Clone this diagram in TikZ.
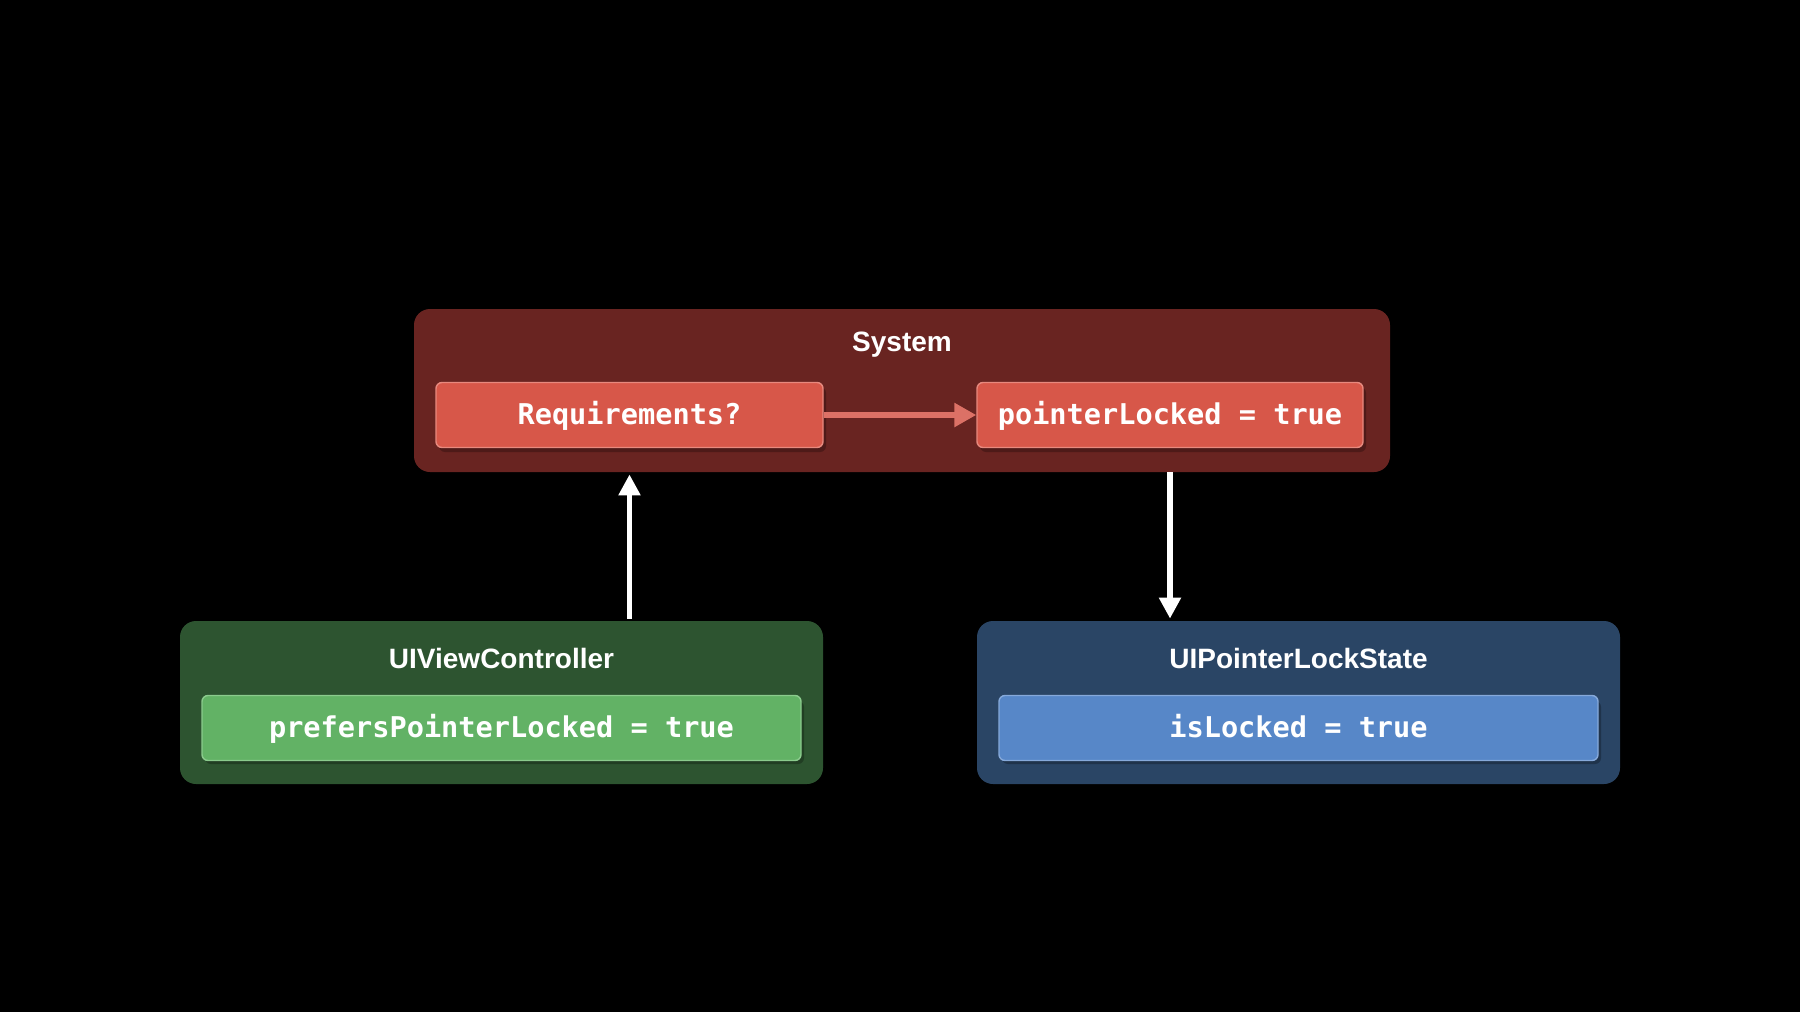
\documentclass[tikz,border=0pt]{standalone}
\usepackage{fontspec}
\setmainfont{Liberation Sans}
\newfontfamily\monof{DejaVu Sans Mono}
\usetikzlibrary{arrows.meta,calc}
\definecolor{sysbg}{HTML}{692421}
\definecolor{redbox}{HTML}{D75749}
\definecolor{redline}{HTML}{E7897E}
\definecolor{redarrow}{HTML}{DC7166}
\definecolor{greenbg}{HTML}{2D5430}
\definecolor{greenbox}{HTML}{62B265}
\definecolor{greenline}{HTML}{8BCB8D}
\definecolor{bluebg}{HTML}{2A4565}
\definecolor{bluebox}{HTML}{5787C8}
\definecolor{blueline}{HTML}{86A9DA}
\begin{document}
\begin{tikzpicture}[x=0.5pt,y=-0.5pt,
  group/.style={rectangle,rounded corners=8pt,minimum width=488pt,minimum height=81.5pt,inner sep=0pt},
  item/.style={rectangle,rounded corners=3pt,inner sep=0pt,minimum height=32.5pt,line width=0.7pt,text=white,font=\monof\bfseries\fontsize{14.3}{16}\selectfont,text height=0.97em,text depth=0.03em},
  ttl/.style={text=white,font=\bfseries\fontsize{14}{16}\selectfont,inner sep=0pt,text height=0.9em,text depth=0pt},
  wire/.style={line width=2.6pt,draw=white,-{Triangle[width=10.5pt,length=10.5pt]}}]
\fill[black] (0,0) rectangle (1800,1012);
% groups
\node[group,fill=sysbg] (sys) at (902,390.5) {};
\node[group,fill=greenbg,minimum width=321.5pt] (uivc) at (501.5,702.5) {};
\node[group,fill=bluebg,minimum width=321.5pt] (uipl) at (1298.5,702.5) {};
% titles
\node[ttl] (sysT) at (902,342) {System};
\node[ttl] (uivcT) at (501.5,659) {UIViewController};
\node[ttl] (uiplT) at (1298.5,659) {UIPointerLockState};
% shadows
\fill[black,opacity=0.25,rounded corners=3pt] (439,387) rectangle (826,452);
\fill[black,opacity=0.25,rounded corners=3pt] (980,387) rectangle (1366,452);
\fill[black,opacity=0.25,rounded corners=3pt] (205,701) rectangle (804,764);
\fill[black,opacity=0.25,rounded corners=3pt] (1002,701) rectangle (1601,764);
% items
\node[item,fill=redbox,draw=redline,minimum width=193.5pt] (req) at (629.5,415) {Requirements?};
\node[item,fill=redbox,draw=redline,minimum width=193pt] (pl) at (1170,415) {pointerLocked = true};
\node[item,fill=greenbox,draw=greenline,minimum width=299.5pt] (pref) at (501.5,728) {prefersPointerLocked = true};
\node[item,fill=bluebox,draw=blueline,minimum width=299.5pt] (isl) at (1298.5,728) {isLocked = true};
% connectors
\draw[line width=3pt,draw=redarrow,-{Triangle[width=11.5pt,length=11pt]}] (req.east) -- (pl.west);
\draw[wire] ($(uivc.north -| req.south)+(0,-2)$) -- ($(sys.south -| req.south)+(0,2)$);
\draw[wire] (sys.south -| pl.south) -- ($(uipl.north -| pl.south)+(0,-2)$);
\end{tikzpicture}
\end{document}
